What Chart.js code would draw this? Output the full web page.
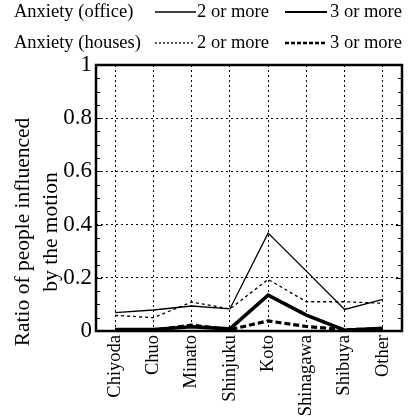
<!DOCTYPE html>
<html lang="en">
<head>
<meta charset="UTF-8">
<title>Ratio of people influenced by the motion</title>
<script src="https://cdn.jsdelivr.net/npm/chart.js"></script>
<style>
    html, body { margin: 0; padding: 0; background: #ffffff; }
    #wrap { width: 410px; height: 420px; position: relative; }
</style>
</head>
<body>
<div id="wrap"><canvas id="ratioChart" width="410" height="420"></canvas></div>
<script>
    // wards along the x axis
    const wards = ['Chiyoda', 'Chuo', 'Minato', 'Shinjuku', 'Koto', 'Shinagawa', 'Shibuya', 'Other'];

    // ratio values per ward
    const officeTwoOrMore = [0.069, 0.079, 0.094, 0.083, 0.368, 0.225, 0.081, 0.119];
    const officeThreeOrMore = [0.006, 0.006, 0.016, 0.008, 0.135, 0.06, 0.003, 0.01];
    const housesTwoOrMore = [0.059, 0.05, 0.109, 0.083, 0.194, 0.11, 0.11, 0.104];
    const housesThreeOrMore = [0.003, 0.003, 0.022, 0.005, 0.038, 0.017, 0.005, 0.008];

    const yTickLabels = ['0', '0.2', '0.4', '0.6', '0.8', '1'];
    const yTitleLines = ['Ratio of people influenced', 'by the motion'];

    const FONT = '"Liberation Serif", "DejaVu Serif", serif';

    const isMajor = v => Math.abs(v * 5 - Math.round(v * 5)) < 1e-6;

    // legend drawn above the plot: two rows of group name + two line samples
    const topLegend = {
        id: 'topLegend',
        afterDraw(chart) {
            const ctx = chart.ctx;
            const rows = [
                { name: 'Anxiety (office)', y: 12, items: [
                    { x0: 155, x1: 196, w: 1.5, dash: [], tx: 197 },
                    { x0: 285, x1: 327, w: 2, dash: [], tx: 330 }] },
                { name: 'Anxiety (houses)', y: 43, items: [
                    { x0: 155, x1: 195, w: 1.3, dash: [2, 2], tx: 197 },
                    { x0: 285, x1: 327, w: 2.5, dash: [4, 2], tx: 330 }] }
            ];
            const labels = ['2 or more', '3 or more'];
            ctx.save();
            ctx.fillStyle = '#000';
            ctx.strokeStyle = '#000';
            ctx.font = '18.5px ' + FONT;
            ctx.textBaseline = 'middle';
            rows.forEach(r => {
                ctx.fillText(r.name, 14, r.y);
                r.items.forEach((it, i) => {
                    ctx.beginPath();
                    ctx.lineWidth = it.w;
                    ctx.setLineDash(it.dash);
                    ctx.moveTo(it.x0, r.y);
                    ctx.lineTo(it.x1, r.y);
                    ctx.stroke();
                    ctx.setLineDash([]);
                    ctx.fillText(labels[i], it.tx, r.y);
                });
            });
            ctx.restore();
        }
    };

    // two-line y axis title, rotated
    const yTitle = {
        id: 'yTitle',
        afterDraw(chart) {
            const ctx = chart.ctx;
            ctx.save();
            ctx.fillStyle = '#000';
            ctx.font = '21.5px ' + FONT;
            ctx.textAlign = 'center';
            ctx.textBaseline = 'middle';
            ctx.translate(0, 232);
            ctx.rotate(-Math.PI / 2);
            ctx.fillText(yTitleLines[0], 0, 23);
            ctx.fillText(yTitleLines[1], 0, 51);
            ctx.restore();
        }
    };

    // frame around the plot with inward minor ticks on both sides
    const plotFrame = {
        id: 'plotFrame',
        afterDraw(chart) {
            const ctx = chart.ctx;
            const a = chart.chartArea;
            const y = chart.scales.y;
            ctx.save();
            ctx.strokeStyle = '#000';
            ctx.lineWidth = 1;
            for (let v = 0.05; v < 1; v += 0.05) {
                const py = Math.round(y.getPixelForValue(v)) + 0.5;
                const len = isMajor(v) ? 6 : 4;
                ctx.beginPath();
                ctx.moveTo(a.left, py);
                ctx.lineTo(a.left + len, py);
                ctx.moveTo(a.right, py);
                ctx.lineTo(a.right - len, py);
                ctx.stroke();
            }
            ctx.lineWidth = 2.5;
            ctx.strokeRect(a.left, a.top, a.right - a.left, a.bottom - a.top);
            ctx.restore();
        }
    };

    new Chart(document.getElementById('ratioChart'), {
        type: 'line',
        data: {
            labels: wards,
            datasets: [{
                label: 'Anxiety (office) 2 or more',
                data: officeTwoOrMore,
                borderColor: '#000',
                borderWidth: 1.3
            }, {
                label: 'Anxiety (houses) 2 or more',
                data: housesTwoOrMore,
                borderColor: '#000',
                borderWidth: 1.3,
                borderDash: [3, 3]
            }, {
                label: 'Anxiety (houses) 3 or more',
                data: housesThreeOrMore,
                borderColor: '#000',
                borderWidth: 3.2,
                borderDash: [6, 3]
            }, {
                label: 'Anxiety (office) 3 or more',
                data: officeThreeOrMore,
                borderColor: '#000',
                borderWidth: 3.5
            }]
        },
        options: {
            responsive: false,
            animation: false,
            layout: { padding: { top: 65, right: 8, left: 0, bottom: 0 } },
            elements: { point: { radius: 0 }, line: { tension: 0 } },
            plugins: { legend: { display: false }, tooltip: { enabled: false } },
            scales: {
                x: {
                    offset: true,
                    grid: {
                        display: true,
                        offset: false,
                        color: '#000',
                        lineWidth: 1,
                        drawTicks: false
                    },
                    border: { display: false, dash: [2, 3] },
                    ticks: {
                        color: '#000',
                        font: { family: FONT, size: 18.5 },
                        minRotation: 90,
                        maxRotation: 90,
                        padding: 4,
                        autoSkip: false
                    },
                    afterFit(scale) { scale.height = 89; }
                },
                y: {
                    min: 0,
                    max: 1,
                    grid: {
                        color: ctx => (ctx.tick && ctx.tick.value > 0 && ctx.tick.value < 1 && isMajor(ctx.tick.value)) ? '#000' : 'rgba(0,0,0,0)',
                        lineWidth: 1,
                        drawTicks: false
                    },
                    border: { display: false, dash: [2, 3] },
                    ticks: {
                        stepSize: 0.05,
                        autoSkip: false,
                        color: '#000',
                        font: { family: FONT, size: 23 },
                        padding: 4,
                        callback(value) {
                            if (!isMajor(value)) return '';
                            return yTickLabels[Math.round(value * 5)];
                        }
                    },
                    afterFit(scale) { scale.width = 96; }
                }
            }
        },
        plugins: [topLegend, yTitle, plotFrame]
    });
</script>
</body>
</html>
